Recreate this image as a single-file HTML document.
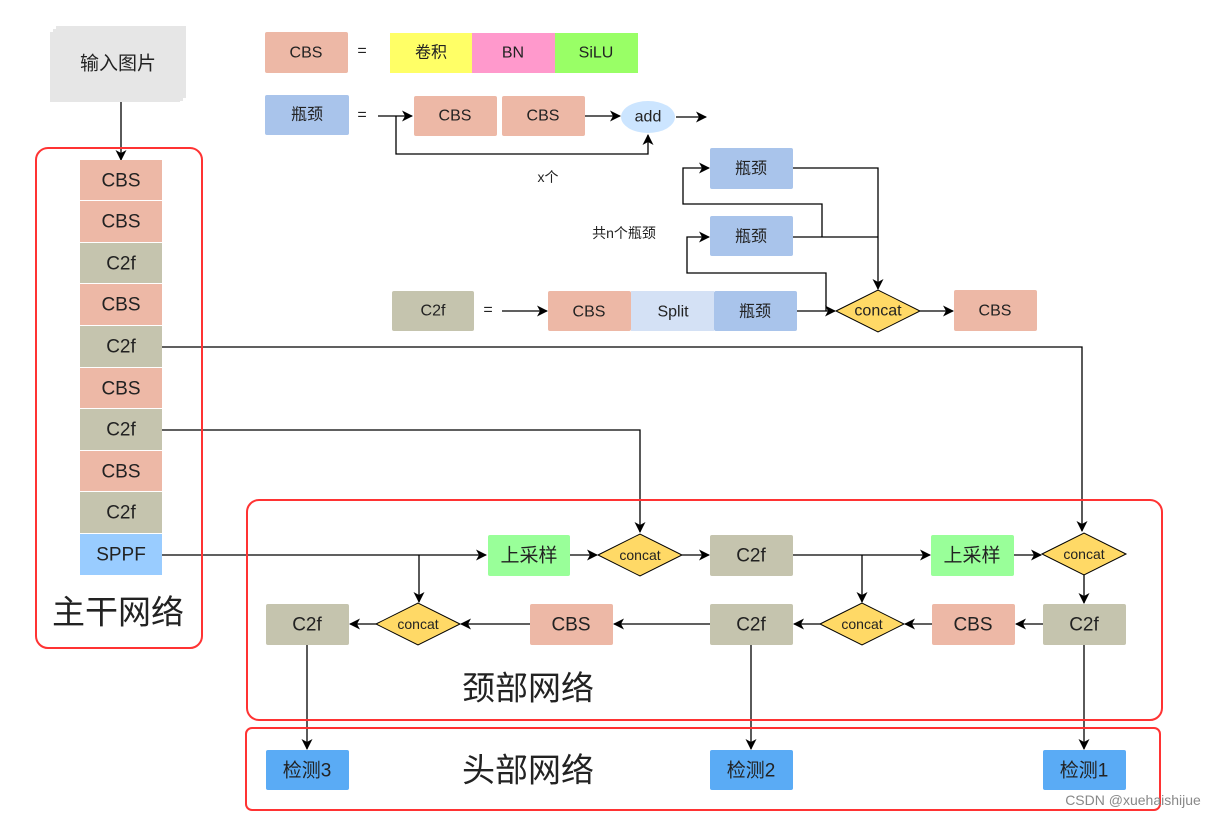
<!DOCTYPE html>
<html><head><meta charset="utf-8"><style>
body{margin:0;background:#fff;width:1230px;height:818px;overflow:hidden}
svg text{font-family:"Liberation Sans","Noto Sans CJK SC",sans-serif;text-anchor:middle;dominant-baseline:central;fill:#222}
</style></head><body>
<svg width="1230" height="818" viewBox="0 0 1230 818" xmlns="http://www.w3.org/2000/svg">
<defs><marker id="a" markerWidth="12" markerHeight="12" refX="10" refY="5.5" orient="auto" markerUnits="userSpaceOnUse"><path d="M0,0 L11,5.5 L0,11 L3,5.5 z" fill="#000"/></marker></defs>
<g fill="none" stroke="#000" stroke-width="1.3" marker-end="url(#a)">
<path d="M121,102 V160"/>
<path d="M378,116 H412"/><path d="M585,116 H620"/><path d="M676,117 H706"/>
<path d="M396,116 V154 H648 V135"/>
<path d="M822,237 V204 H683 V168 H709"/>
<path d="M826,311 V273 H687 V237 H709"/>
<path d="M793,168 H878 V289"/>
<path d="M793,237 H878" marker-end="none"/>
<path d="M797,311 H835"/><path d="M920,311 H953"/>
<path d="M502,311 H547"/>
<path d="M162,347 H1082 V531"/>
<path d="M162,430 H640 V532"/>
<path d="M162,555 H486"/>
<path d="M419,555 V602"/>
<path d="M570,555 H597"/><path d="M682,555 H709"/>
<path d="M793,555 H930"/><path d="M862,555 V602"/>
<path d="M1014,555 H1041"/><path d="M1084,575 V603"/>
<path d="M1043,624 H1016"/><path d="M932,624 H905"/><path d="M820,624 H794"/>
<path d="M710,624 H614"/><path d="M530,624 H461"/><path d="M376,624 H350"/>
<path d="M307,645 V749"/><path d="M751,645 V749"/><path d="M1084,645 V749"/>
</g>
<rect x="56" y="26" width="130" height="72" fill="#e6e6e6"/>
<rect x="53" y="29" width="130" height="72" fill="#e6e6e6"/>
<rect x="50" y="32" width="130" height="70" fill="#e6e6e6"/>
<text x="118" y="64" font-size="19">输入图片</text>
<rect x="36" y="148" width="166" height="500" rx="12" fill="none" stroke="#f33" stroke-width="2"/>
<g font-size="19">
<rect x="80" y="160" width="82" height="40" fill="#edb8a6"/><text x="121" y="181">CBS</text>
<rect x="80" y="201" width="82" height="41" fill="#edb8a6"/><text x="121" y="222">CBS</text>
<rect x="80" y="243" width="82" height="40" fill="#c5c4ae"/><text x="121" y="264">C2f</text>
<rect x="80" y="284" width="82" height="41" fill="#edb8a6"/><text x="121" y="305">CBS</text>
<rect x="80" y="326" width="82" height="41" fill="#c5c4ae"/><text x="121" y="347">C2f</text>
<rect x="80" y="368" width="82" height="40" fill="#edb8a6"/><text x="121" y="389">CBS</text>
<rect x="80" y="409" width="82" height="41" fill="#c5c4ae"/><text x="121" y="430">C2f</text>
<rect x="80" y="451" width="82" height="40" fill="#edb8a6"/><text x="121" y="472">CBS</text>
<rect x="80" y="492" width="82" height="41" fill="#c5c4ae"/><text x="121" y="513">C2f</text>
<rect x="80" y="534" width="82" height="41" fill="#99ccff"/><text x="121" y="555">SPPF</text>
</g>
<text x="118" y="612" font-size="33">主干网络</text>
<g font-size="16">
<rect x="265" y="32" width="83" height="41" rx="2" fill="#edb8a6"/><text x="306" y="53">CBS</text>
<text x="362" y="51">=</text>
<rect x="390" y="33" width="82" height="40" fill="#ffff66"/><text x="431" y="53">卷积</text>
<rect x="472" y="33" width="83" height="40" fill="#ff99cc"/><text x="513" y="53">BN</text>
<rect x="555" y="33" width="83" height="40" fill="#99ff66"/><text x="596" y="53">SiLU</text>
<rect x="265" y="95" width="84" height="40" rx="2" fill="#a9c4eb"/><text x="307" y="115">瓶颈</text>
<text x="362" y="115">=</text>
<rect x="414" y="96" width="83" height="40" rx="2" fill="#edb8a6"/><text x="455" y="116">CBS</text>
<rect x="502" y="96" width="83" height="40" rx="2" fill="#edb8a6"/><text x="543" y="116">CBS</text>
<ellipse cx="648" cy="117" rx="27" ry="16" fill="#cce5ff"/><text x="648" y="117">add</text>
<text x="548" y="177" font-size="14">x个</text>
<rect x="710" y="148" width="83" height="41" rx="2" fill="#a9c4eb"/><text x="751" y="169">瓶颈</text>
<rect x="710" y="216" width="83" height="40" rx="2" fill="#a9c4eb"/><text x="751" y="237">瓶颈</text>
<text x="624" y="233" font-size="14">共n个瓶颈</text>
<rect x="392" y="291" width="82" height="40" rx="2" fill="#c5c4ae"/><text x="433" y="311">C2f</text>
<text x="488" y="310">=</text>
<rect x="548" y="291" width="83" height="40" rx="2" fill="#edb8a6"/><text x="589" y="312">CBS</text>
<rect x="631" y="291" width="83" height="40" fill="#d4e1f5"/><text x="673" y="312">Split</text>
<rect x="714" y="291" width="83" height="40" rx="2" fill="#a9c4eb"/><text x="755" y="312">瓶颈</text>
<polygon points="836,311 878,290 920,311 878,332" fill="#ffd966" stroke="#000"/><text x="878" y="311">concat</text>
<rect x="954" y="290" width="83" height="41" rx="2" fill="#edb8a6"/><text x="995" y="311">CBS</text>
</g>
<rect x="247" y="500" width="915" height="220" rx="12" fill="none" stroke="#f33" stroke-width="2"/>
<rect x="246" y="728" width="914" height="82" rx="6" fill="none" stroke="#f33" stroke-width="2"/>
<g font-size="19">
<rect x="488" y="535" width="82" height="41" rx="2" fill="#99ff99"/><text x="529" y="556">上采样</text>
<rect x="710" y="535" width="83" height="41" rx="2" fill="#c5c4ae"/><text x="751" y="556">C2f</text>
<rect x="931" y="535" width="83" height="41" rx="2" fill="#99ff99"/><text x="972" y="556">上采样</text>
<rect x="266" y="604" width="83" height="41" rx="2" fill="#c5c4ae"/><text x="307" y="625">C2f</text>
<rect x="530" y="604" width="83" height="41" rx="2" fill="#edb8a6"/><text x="571" y="625">CBS</text>
<rect x="710" y="604" width="83" height="41" rx="2" fill="#c5c4ae"/><text x="751" y="625">C2f</text>
<rect x="932" y="604" width="83" height="41" rx="2" fill="#edb8a6"/><text x="973" y="625">CBS</text>
<rect x="1043" y="604" width="83" height="41" rx="2" fill="#c5c4ae"/><text x="1084" y="625">C2f</text>
<rect x="266" y="750" width="83" height="40" rx="2" fill="#5aabf5"/><text x="307" y="771">检测3</text>
<rect x="710" y="750" width="83" height="40" rx="2" fill="#5aabf5"/><text x="751" y="771">检测2</text>
<rect x="1043" y="750" width="83" height="40" rx="2" fill="#5aabf5"/><text x="1084" y="771">检测1</text>
</g>
<g font-size="14">
<polygon points="598,555 640,534 682,555 640,576" fill="#ffd966" stroke="#000"/><text x="640" y="555">concat</text>
<polygon points="1042,554 1084,533 1126,554 1084,575" fill="#ffd966" stroke="#000"/><text x="1084" y="554">concat</text>
<polygon points="376,624 418,603 460,624 418,645" fill="#ffd966" stroke="#000"/><text x="418" y="624">concat</text>
<polygon points="820,624 862,603 904,624 862,645" fill="#ffd966" stroke="#000"/><text x="862" y="624">concat</text>
</g>
<text x="528" y="688" font-size="33">颈部网络</text>
<text x="528" y="770" font-size="33">头部网络</text>
<text x="1133" y="800" font-size="14" style="fill:#888">CSDN @xuehaishijue</text>
</svg>
</body></html>
